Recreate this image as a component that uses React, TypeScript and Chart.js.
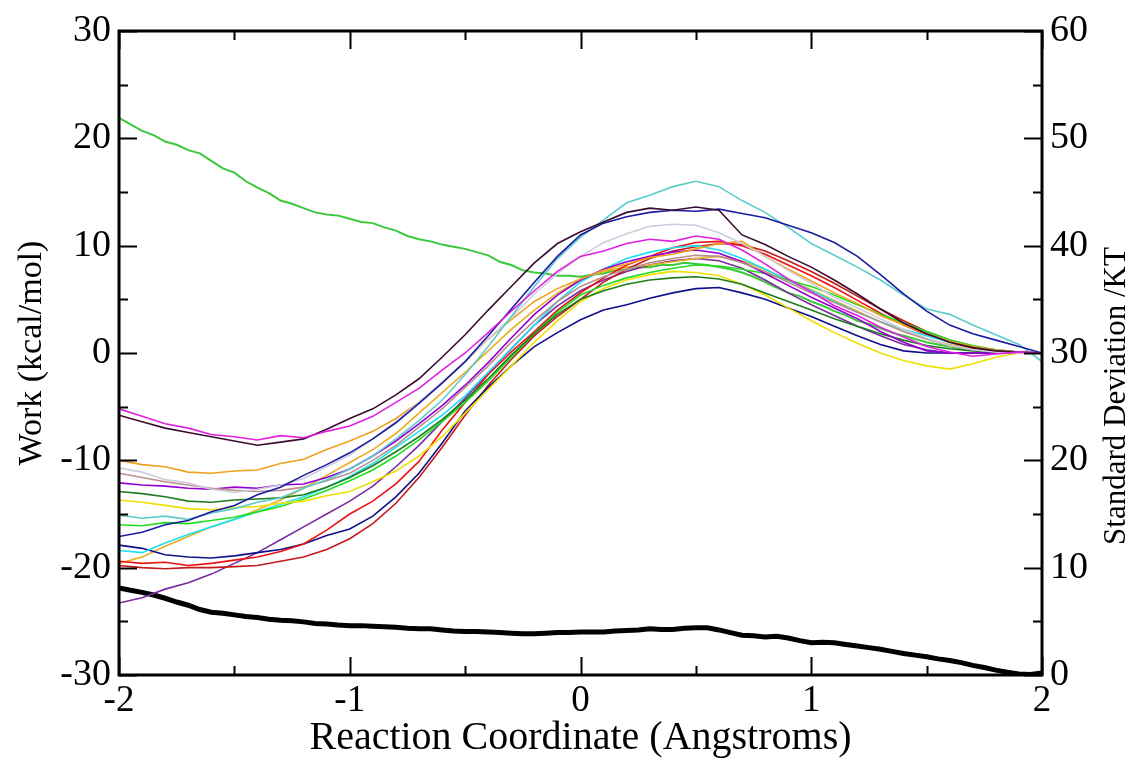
import React, { useEffect, useRef } from "react";
import { Chart, registerables } from "chart.js";

Chart.register(...registerables);

// Reaction coordinate (Angstroms), work-curve sampling
const xValues = [
  -2.0, -1.9, -1.8, -1.7, -1.6, -1.5, -1.4, -1.3, -1.2, -1.1, -1.0,
  -0.9, -0.8, -0.7, -0.6, -0.5, -0.4, -0.3, -0.2, -0.1, 0.0,
  0.1, 0.2, 0.3, 0.4, 0.5, 0.6, 0.7, 0.8, 0.9, 1.0,
  1.1, 1.2, 1.3, 1.4, 1.5, 1.6, 1.7, 1.8, 1.9, 2.0,
];

// Finer sampling for the average and standard-deviation curves
const xFine = [
  -2.0, -1.95, -1.9, -1.85, -1.8, -1.75, -1.7, -1.65, -1.6, -1.55,
  -1.5, -1.45, -1.4, -1.35, -1.3, -1.25, -1.2, -1.15, -1.1, -1.05,
  -1.0, -0.95, -0.9, -0.85, -0.8, -0.75, -0.7, -0.65, -0.6, -0.55,
  -0.5, -0.45, -0.4, -0.35, -0.3, -0.25, -0.2, -0.15, -0.1, -0.05,
  0.0, 0.05, 0.1, 0.15, 0.2, 0.25, 0.3, 0.35, 0.4, 0.45,
  0.5, 0.55, 0.6, 0.65, 0.7, 0.75, 0.8, 0.85, 0.9, 0.95,
  1.0, 1.05, 1.1, 1.15, 1.2, 1.25, 1.3, 1.35, 1.4, 1.45,
  1.5, 1.55, 1.6, 1.65, 1.7, 1.75, 1.8, 1.85, 1.9, 1.95,
  2.0,
];

// Work curves (kcal/mol)
const workMagenta = [-5.2, -5.9, -6.6, -7.0, -7.6, -7.8, -8.1, -7.7, -7.9, -7.3, -6.8, -5.9, -4.6, -3.3, -1.6, 0.0, 1.9, 3.9, 5.8, 7.6, 9.0, 9.5, 10.2, 10.6, 10.4, 10.9, 10.6, 9.6, 8.3, 6.9, 5.7, 4.4, 3.5, 2.4, 1.5, 0.6, 0.1, -0.3, -0.1, 0.1, 0.0];
const workMaroon = [-5.8, -6.4, -7.0, -7.4, -7.8, -8.2, -8.6, -8.3, -8.0, -7.1, -6.1, -5.2, -3.9, -2.4, -0.4, 1.7, 4.0, 6.2, 8.4, 10.2, 11.3, 12.2, 13.1, 13.5, 13.3, 13.6, 13.3, 11.0, 10.1, 9.0, 8.0, 6.8, 5.5, 4.1, 2.8, 1.8, 1.0, 0.5, 0.2, 0.1, 0.0];
const workNavyTop = [-17.1, -16.7, -16.0, -15.6, -14.8, -14.2, -13.2, -12.5, -11.4, -10.4, -9.3, -8.0, -6.5, -4.7, -2.8, -0.8, 1.6, 4.1, 6.6, 9.0, 11.0, 12.1, 12.7, 13.1, 13.3, 13.2, 13.4, 13.0, 12.6, 11.9, 11.2, 10.3, 9.0, 7.3, 5.5, 3.9, 2.6, 1.8, 1.2, 0.6, 0.0];
const workTurquoise = [-15.1, -15.4, -15.2, -15.5, -14.9, -14.5, -13.9, -13.5, -12.6, -11.8, -10.8, -9.6, -8.0, -6.3, -4.4, -2.0, 0.6, 3.4, 6.2, 8.8, 10.8, 12.4, 14.0, 14.7, 15.5, 16.0, 15.5, 14.2, 13.1, 11.7, 10.2, 9.1, 8.0, 6.8, 5.4, 4.1, 3.6, 2.6, 1.7, 0.8, -0.8];
const workGrey = [-10.7, -11.1, -11.8, -12.1, -12.7, -13.0, -12.7, -12.3, -11.7, -10.6, -9.5, -8.0, -6.4, -4.6, -2.7, -0.8, 1.3, 3.3, 5.5, 7.4, 9.0, 10.3, 11.1, 11.8, 12.0, 11.9, 11.2, 10.2, 9.0, 7.7, 6.5, 5.2, 4.2, 3.2, 2.2, 1.4, 0.7, 0.3, 0.1, 0.0, 0.0];
const workOrange = [-10.0, -10.4, -10.6, -11.1, -11.2, -11.0, -10.9, -10.3, -9.9, -9.0, -8.2, -7.3, -6.1, -4.6, -2.8, -0.8, 1.3, 3.1, 4.8, 6.0, 6.9, 7.7, 8.3, 8.9, 9.2, 9.7, 10.2, 10.4, 9.0, 7.8, 6.7, 5.6, 4.6, 3.5, 2.6, 1.8, 1.1, 0.6, 0.3, 0.1, 0.0];
const workBrown = [-11.2, -11.6, -12.0, -12.3, -12.6, -12.8, -12.9, -12.8, -12.5, -11.9, -11.2, -10.0, -8.6, -6.9, -5.2, -3.2, -1.2, 1.0, 3.0, 4.8, 6.2, 7.1, 7.8, 8.4, 8.8, 9.1, 9.0, 8.4, 7.6, 6.6, 5.6, 4.7, 3.8, 2.9, 2.0, 1.3, 0.7, 0.3, 0.1, 0.0, 0.0];
const workViolet = [-12.1, -12.3, -12.4, -12.6, -12.7, -12.5, -12.6, -12.3, -12.2, -11.6, -10.8, -9.6, -8.2, -6.6, -4.9, -3.0, -0.9, 1.4, 3.6, 5.4, 6.8, 7.8, 8.5, 9.0, 9.4, 9.6, 9.3, 8.5, 7.4, 6.3, 5.2, 4.2, 3.2, 2.0, 1.0, 0.2, 0.0, 0.0, 0.0, 0.0, 0.0];
const workGreen4 = [-12.9, -13.1, -13.4, -13.8, -13.9, -13.7, -13.6, -13.5, -13.2, -12.5, -11.6, -10.5, -9.2, -7.8, -6.2, -4.4, -2.4, -0.2, 1.8, 3.6, 5.0, 5.8, 6.4, 6.8, 7.0, 7.1, 6.9, 6.4, 5.6, 4.8, 4.0, 3.2, 2.5, 1.8, 1.2, 0.7, 0.4, 0.2, 0.1, 0.0, 0.0];
const workYellow = [-13.7, -13.9, -14.2, -14.5, -14.6, -14.4, -14.3, -14.0, -13.8, -13.3, -12.9, -12.0, -11.0, -9.6, -7.8, -5.6, -3.4, -1.2, 1.0, 3.0, 4.8, 6.0, 6.8, 7.3, 7.6, 7.5, 7.2, 6.4, 5.4, 4.2, 3.0, 1.9, 0.9, 0.0, -0.7, -1.2, -1.5, -1.0, -0.4, 0.0, 0.0];
const workGreen = [-16.0, -16.1, -15.8, -15.9, -15.6, -15.3, -14.8, -14.3, -13.6, -12.8, -11.9, -10.9, -9.6, -8.1, -6.4, -4.6, -2.6, -0.4, 1.8, 3.8, 5.4, 6.3, 7.0, 7.5, 7.9, 8.2, 8.1, 7.8, 7.4, 6.8, 6.2, 5.4, 4.5, 3.6, 2.8, 2.0, 1.2, 0.7, 0.3, 0.1, 0.0];
const workCyan = [-18.4, -18.6, -17.7, -16.9, -16.2, -15.5, -14.8, -14.1, -13.4, -12.5, -11.5, -10.3, -8.8, -7.3, -5.8, -4.0, -1.8, 0.4, 2.6, 4.8, 6.6, 7.8, 8.8, 9.4, 9.8, 10.0, 9.6, 8.8, 7.8, 6.8, 5.8, 4.8, 3.8, 2.9, 2.2, 1.6, 1.0, 0.6, 0.3, 0.1, 0.0];
const workRed = [-19.4, -19.6, -19.5, -19.8, -19.6, -19.3, -19.0, -18.5, -17.8, -16.5, -15.0, -13.8, -12.2, -10.1, -7.2, -4.6, -2.0, 0.1, 2.0, 4.0, 5.6, 7.0, 8.2, 9.0, 9.8, 10.3, 10.4, 10.0, 9.2, 8.2, 7.2, 6.1, 4.9, 3.7, 2.6, 1.7, 1.0, 0.5, 0.2, 0.1, 0.0];
const workNavyLow = [-17.9, -18.2, -18.8, -19.0, -19.1, -18.9, -18.6, -18.3, -17.8, -17.0, -16.4, -15.2, -13.4, -11.2, -8.4, -5.4, -3.2, -1.2, 0.6, 1.9, 3.1, 4.0, 4.5, 5.1, 5.6, 6.0, 6.1, 5.6, 5.0, 4.2, 3.4, 2.5, 1.6, 0.8, 0.2, 0.0, 0.0, 0.0, 0.0, 0.0, 0.0];
const workDarkRed = [-19.8, -20.0, -20.1, -20.0, -20.0, -19.9, -19.8, -19.4, -19.0, -18.3, -17.3, -15.9, -14.0, -11.6, -8.8, -5.8, -3.0, -0.6, 1.6, 3.4, 5.0, 6.6, 7.8, 8.8, 9.5, 9.9, 10.2, 10.1, 9.5, 8.6, 7.6, 6.5, 5.3, 4.1, 3.0, 2.0, 1.2, 0.6, 0.2, 0.0, 0.0];
const workGold = [-19.6, -19.0, -18.0, -17.1, -16.2, -15.5, -14.6, -13.7, -12.6, -11.4, -10.2, -9.0, -7.5, -5.6, -3.7, -1.8, 0.2, 2.2, 4.0, 5.6, 6.8, 7.6, 8.0, 8.2, 8.5, 8.8, 9.0, 8.6, 7.8, 6.8, 5.9, 4.9, 3.9, 2.9, 2.0, 1.3, 0.8, 0.4, 0.2, 0.1, 0.0];
const workPurple = [-23.3, -22.8, -22.0, -21.4, -20.6, -19.6, -18.6, -17.4, -16.2, -15.0, -13.8, -12.4, -10.6, -8.6, -6.4, -4.2, -1.9, 0.4, 2.6, 4.4, 5.8, 6.8, 7.6, 8.2, 8.6, 8.8, 8.6, 7.9, 6.8, 5.6, 4.5, 3.5, 2.5, 1.6, 0.8, 0.3, 0.0, 0.0, 0.0, 0.0, 0.0];

// Averaged curve (left axis, kcal/mol), sampled on xFine
const averageGreen = [
  21.9, 21.3, 20.7, 20.3, 19.7, 19.4, 18.9, 18.6, 17.9, 17.2,
  16.8, 16.0, 15.4, 14.9, 14.2, 13.9, 13.5, 13.1, 12.9, 12.8,
  12.5, 12.2, 12.1, 11.7, 11.4, 10.9, 10.6, 10.4, 10.1, 9.9,
  9.7, 9.4, 9.1, 8.5, 8.2, 7.7, 7.5, 7.4, 7.2, 7.2,
  7.1, 7.3, 7.4, 7.7, 7.8, 8.0, 8.0, 8.2, 8.2, 8.4,
  8.3, 8.2, 8.0, 7.8, 7.5, 7.1, 6.6, 6.1, 5.6, 5.3,
  4.8, 4.4, 3.9, 3.5, 3.0, 2.7, 2.3, 1.9, 1.6, 1.3,
  1.0, 0.8, 0.6, 0.4, 0.3, 0.2, 0.1, 0.1, 0.0, 0.0,
  0.0,
];

// Standard deviation (right axis, /KT), sampled on xFine
const stdDev = [
  8.1, 7.9, 7.7, 7.45, 7.15, 6.8, 6.5, 6.1, 5.85, 5.75,
  5.6, 5.45, 5.35, 5.2, 5.1, 5.05, 4.95, 4.8, 4.75, 4.65,
  4.6, 4.6, 4.55, 4.5, 4.45, 4.35, 4.3, 4.3, 4.2, 4.1,
  4.05, 4.05, 4.0, 3.95, 3.9, 3.85, 3.85, 3.9, 3.95, 3.95,
  4.0, 4.0, 4.0, 4.1, 4.15, 4.2, 4.3, 4.25, 4.25, 4.35,
  4.4, 4.4, 4.2, 3.95, 3.7, 3.65, 3.55, 3.6, 3.45, 3.2,
  3.0, 3.05, 3.0, 2.85, 2.7, 2.55, 2.4, 2.2, 2.0, 1.85,
  1.7, 1.5, 1.35, 1.15, 0.9, 0.7, 0.45, 0.25, 0.1, 0.05,
  0.2,
];

const xTicksMajor = [-2, -1, 0, 1, 2];
const leftTicks = [-30, -20, -10, 0, 10, 20, 30];
const rightTicks = [0, 10, 20, 30, 40, 50, 60];

const workSeries: [number[], string][] = [
  [workMagenta, "#e020e0"],
  [workMaroon, "#3a0c32"],
  [workNavyTop, "#1c1ca0"],
  [workTurquoise, "#5ccccc"],
  [workGrey, "#cdcde0"],
  [workOrange, "#f0a020"],
  [workBrown, "#bc8f8f"],
  [workViolet, "#9400d3"],
  [workGreen4, "#1e7d1e"],
  [workYellow, "#eee000"],
  [workGreen, "#22dd22"],
  [workCyan, "#20e0f0"],
  [workRed, "#ee1111"],
  [workNavyLow, "#10108a"],
  [workDarkRed, "#c41a1a"],
  [workGold, "#e8b020"],
  [workPurple, "#7a2aa0"],
];

const SERIF = '"Liberation Serif", "Times New Roman", serif';

const toPoints = (xs: number[], ys: number[]) => xs.map((x, i) => ({ x, y: ys[i] }));

const framePlugin = {
  id: "xmgrFrame",
  afterDatasetsDraw(chart: any) {
    const { ctx, chartArea, scales } = chart;
    const { left, right, top, bottom } = chartArea;
    ctx.save();
    ctx.strokeStyle = "#000";
    ctx.lineWidth = 2;
    ctx.beginPath();
    // x ticks (bottom and top, inward)
    for (let v = -2; v <= 2.0001; v += 0.5) {
      const px = Math.round(scales.x.getPixelForValue(v)) + 0.5;
      const major = Math.abs(v - Math.round(v)) < 1e-6;
      const len = major ? 18 : 9;
      ctx.moveTo(px, bottom);
      ctx.lineTo(px, bottom - len);
      ctx.moveTo(px, top);
      ctx.lineTo(px, top + len);
    }
    // left ticks
    for (let v = -30; v <= 30; v += 5) {
      const py = Math.round(scales.y.getPixelForValue(v)) + 0.5;
      const len = v % 10 === 0 ? 18 : 9;
      ctx.moveTo(left, py);
      ctx.lineTo(left + len, py);
    }
    // right ticks
    for (let v = 0; v <= 60; v += 5) {
      const py = Math.round(scales.y2.getPixelForValue(v)) + 0.5;
      const len = v % 10 === 0 ? 18 : 9;
      ctx.moveTo(right, py);
      ctx.lineTo(right - len, py);
    }
    ctx.stroke();
    ctx.lineWidth = 3;
    ctx.strokeRect(left, top, right - left, bottom - top);
    // right axis title (reads bottom to top)
    ctx.fillStyle = "#000";
    ctx.font = `31px ${SERIF}`;
    ctx.textAlign = "center";
    ctx.textBaseline = "middle";
    ctx.translate(1117, 396);
    ctx.rotate(-Math.PI / 2);
    ctx.fillText("Standard Deviation /KT", 0, 0);
    ctx.restore();
  },
};

export default function App() {
  const canvasRef = useRef<HTMLCanvasElement>(null);

  useEffect(() => {
    const canvas = canvasRef.current;
    if (!canvas) return;
    const datasets: any[] = workSeries.map(([ys, color]) => ({
      data: toPoints(xValues, ys),
      borderColor: color,
      borderWidth: 1.6,
      pointRadius: 0,
      fill: false,
      tension: 0,
      yAxisID: "y",
    }));
    datasets.push({
      data: toPoints(xFine, averageGreen),
      borderColor: "#3cc83c",
      borderWidth: 2,
      pointRadius: 0,
      fill: false,
      tension: 0,
      yAxisID: "y",
    });
    datasets.push({
      data: toPoints(xFine, stdDev),
      borderColor: "#000000",
      borderWidth: 5,
      pointRadius: 0,
      fill: false,
      tension: 0,
      yAxisID: "y2",
    });

    const chart = new Chart(canvas, {
      type: "line",
      data: { datasets },
      plugins: [framePlugin],
      options: {
        animation: false,
        responsive: false,
        maintainAspectRatio: false,
        layout: { padding: { top: 31, left: 0, right: 0, bottom: 0 } },
        plugins: { legend: { display: false }, tooltip: { enabled: false } },
        scales: {
          x: {
            type: "linear",
            position: "bottom",
            min: -2,
            max: 2,
            afterFit: (s: any) => { s.height = 85; },
            afterBuildTicks: (s: any) => { s.ticks = xTicksMajor.map((v) => ({ value: v })); },
            grid: { display: false, drawTicks: false },
            border: { display: false },
            ticks: {
              color: "#000",
              padding: 4,
              maxRotation: 0,
              autoSkip: false,
              font: { family: SERIF, size: 37 },
              callback: (v: any) => String(v),
            },
            title: {
              display: true,
              text: "Reaction Coordinate (Angstroms)",
              color: "#000",
              font: { family: SERIF, size: 40, lineHeight: 1.1 },
              padding: { top: 0, bottom: 0 },
            },
          },
          y: {
            type: "linear",
            position: "left",
            min: -30,
            max: 30,
            afterFit: (s: any) => { s.width = 119; },
            afterBuildTicks: (s: any) => { s.ticks = leftTicks.map((v) => ({ value: v })); },
            grid: { display: false, drawTicks: false },
            border: { display: false },
            ticks: {
              color: "#000",
              padding: 8,
              autoSkip: false,
              font: { family: SERIF, size: 38 },
              callback: (v: any) => String(v),
            },
            title: {
              display: true,
              text: "Work (kcal/mol)",
              color: "#000",
              font: { family: SERIF, size: 34 },
              padding: { top: 12, bottom: 0 },
            },
          },
          y2: {
            type: "linear",
            position: "right",
            min: 0,
            max: 60,
            afterFit: (s: any) => { s.width = 93; },
            afterBuildTicks: (s: any) => { s.ticks = rightTicks.map((v) => ({ value: v })); },
            grid: { display: false, drawTicks: false },
            border: { display: false },
            ticks: {
              color: "#000",
              padding: 8,
              autoSkip: false,
              font: { family: SERIF, size: 38 },
              callback: (v: any) => String(v),
            },
          },
        },
      },
    });
    return () => chart.destroy();
  }, []);

  return (
    <div style={{ position: "fixed", left: 0, top: 0, width: 1135, height: 760, background: "#fff" }}>
      <canvas ref={canvasRef} width={1135} height={760} />
    </div>
  );
}
